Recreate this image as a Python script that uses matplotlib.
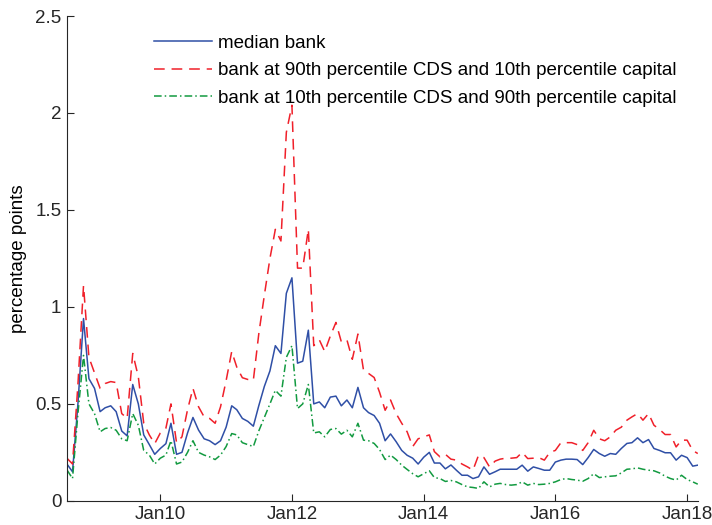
import pandas as pd
import matplotlib
matplotlib.use("Agg")
import matplotlib.pyplot as plt
import matplotlib.dates as mdates


# Monthly observations, Aug 2008 to Mar 2018
start_month = "2008-08-01"

median_bank = [
    0.19, 0.15, 0.50, 0.94, 0.63, 0.58, 0.46, 0.48, 0.49, 0.46, 0.36, 0.335,
    0.60, 0.50, 0.34, 0.29, 0.24, 0.27, 0.295, 0.40, 0.24, 0.25, 0.35, 0.43,
    0.365, 0.32, 0.31, 0.29, 0.31, 0.38, 0.49, 0.47, 0.425, 0.41, 0.385, 0.49,
    0.59, 0.67, 0.80, 0.76, 1.07, 1.15, 0.71, 0.72, 0.88, 0.50, 0.51, 0.48,
    0.535, 0.54, 0.49, 0.52, 0.48, 0.585, 0.48, 0.455, 0.44, 0.40, 0.31, 0.345,
    0.305, 0.26, 0.235, 0.22, 0.19, 0.225, 0.25, 0.195, 0.195, 0.165, 0.185, 0.158,
    0.132, 0.132, 0.115, 0.124, 0.175, 0.137, 0.15, 0.163, 0.163, 0.163, 0.163, 0.184,
    0.153, 0.175, 0.167, 0.158, 0.158, 0.20, 0.21, 0.215, 0.215, 0.213, 0.187, 0.223,
    0.265, 0.244, 0.23, 0.244, 0.24, 0.27, 0.296, 0.30, 0.325, 0.30, 0.316, 0.27,
    0.26, 0.248, 0.248, 0.21, 0.235, 0.223, 0.179, 0.184,
]

high_cds_low_capital = [
    0.22, 0.19, 0.60, 1.11, 0.74, 0.66, 0.58, 0.605, 0.615, 0.61, 0.45, 0.425,
    0.76, 0.64, 0.40, 0.34, 0.295, 0.35, 0.375, 0.50, 0.30, 0.33, 0.47, 0.58,
    0.485, 0.433, 0.425, 0.40, 0.485, 0.62, 0.77, 0.69, 0.635, 0.626, 0.622, 0.86,
    1.06, 1.25, 1.40, 1.34, 1.90, 2.04, 1.20, 1.20, 1.40, 0.80, 0.83, 0.77,
    0.85, 0.92, 0.82, 0.83, 0.73, 0.86, 0.674, 0.657, 0.636, 0.56, 0.467, 0.52,
    0.45, 0.40, 0.356, 0.28, 0.32, 0.33, 0.34, 0.254, 0.227, 0.24, 0.215, 0.21,
    0.19, 0.175, 0.158, 0.235, 0.223, 0.175, 0.205, 0.215, 0.22, 0.22, 0.223, 0.25,
    0.218, 0.22, 0.223, 0.21, 0.25, 0.26, 0.30, 0.30, 0.30, 0.29, 0.26, 0.30,
    0.364, 0.32, 0.31, 0.33, 0.364, 0.38, 0.416, 0.433, 0.45, 0.416, 0.45, 0.39,
    0.368, 0.342, 0.342, 0.278, 0.313, 0.313, 0.26, 0.244,
]

low_cds_high_capital = [
    0.16, 0.115, 0.45, 0.75, 0.50, 0.45, 0.356, 0.373, 0.378, 0.364, 0.32, 0.31,
    0.45, 0.39, 0.26, 0.236, 0.19, 0.22, 0.236, 0.31, 0.19, 0.20, 0.25, 0.31,
    0.25, 0.236, 0.227, 0.213, 0.236, 0.28, 0.347, 0.34, 0.30, 0.29, 0.28, 0.36,
    0.43, 0.50, 0.57, 0.54, 0.74, 0.80, 0.476, 0.50, 0.60, 0.35, 0.356, 0.33,
    0.368, 0.373, 0.344, 0.364, 0.33, 0.40, 0.313, 0.31, 0.296, 0.265, 0.213, 0.236,
    0.213, 0.184, 0.162, 0.14, 0.124, 0.14, 0.155, 0.12, 0.115, 0.10, 0.105, 0.098,
    0.084, 0.072, 0.069, 0.064, 0.098, 0.072, 0.086, 0.09, 0.084, 0.081, 0.084, 0.098,
    0.081, 0.09, 0.084, 0.086, 0.09, 0.098, 0.11, 0.115, 0.11, 0.107, 0.101, 0.115,
    0.14, 0.12, 0.124, 0.127, 0.129, 0.144, 0.163, 0.165, 0.17, 0.163, 0.158, 0.155,
    0.144, 0.127, 0.115, 0.107, 0.132, 0.11, 0.098, 0.086,
]

labels = [
    "median bank",
    "bank at 90th percentile CDS and 10th percentile capital",
    "bank at 10th percentile CDS and 90th percentile capital",
]
tick_years = [2010, 2012, 2014, 2016, 2018]
y_ticks = [0, 0.5, 1, 1.5, 2, 2.5]
y_tick_labels = ["0", "0.5", "1", "1.5", "2", "2.5"]

plt.rcParams["font.family"] = ["Liberation Sans", "DejaVu Sans"]
plt.rcParams["font.size"] = 13.5

dates = pd.date_range(start_month, periods=len(median_bank), freq="MS")

fig = plt.figure(figsize=(7.12, 5.25), dpi=100)
ax = fig.add_axes([0.094, 0.046, 0.886, 0.9235])

ax.plot(dates, median_bank, color="#2f4fa6", lw=1.1, label=labels[0])
ax.plot(dates, high_cds_low_capital, color="#f0202a", lw=1.1,
        dashes=(7, 4.5), label=labels[1])
ax.plot(dates, low_cds_high_capital, color="#129a40", lw=1.1,
        dashes=(5, 2, 1, 2), label=labels[2])

ax.set_xlim(dates[0], dates[-1])
ax.set_ylim(0, 2.5)
ax.set_yticks(y_ticks)
ax.set_yticklabels(y_tick_labels)
ax.set_xticks([pd.Timestamp(f"{y}-01-01") for y in tick_years])
ax.xaxis.set_major_formatter(mdates.DateFormatter("Jan%y"))
ax.set_ylabel("percentage points", labelpad=6)

# matlab style: no box, ticks inside
ax.spines["top"].set_visible(False)
ax.spines["right"].set_visible(False)
ax.tick_params(direction="in", length=5, colors="#262626", pad=4)
for s in ["left", "bottom"]:
    ax.spines[s].set_color("#262626")

ax.legend(loc="upper left", bbox_to_anchor=(0.126, 0.977), frameon=False,
          handlelength=3.1, handletextpad=0.32, labelspacing=0.56,
          borderaxespad=0)

fig.savefig("out.png", dpi=100)
